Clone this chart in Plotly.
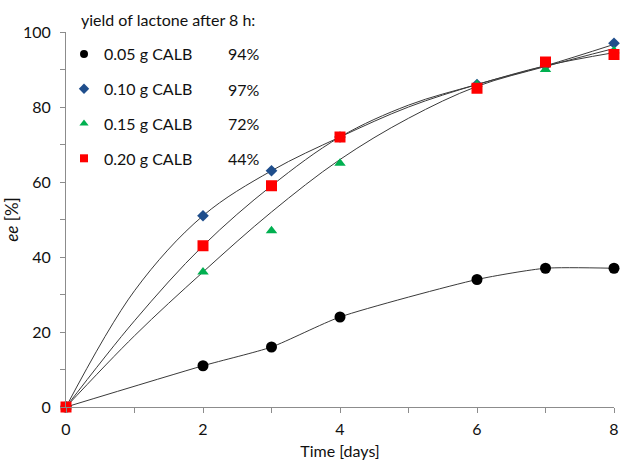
import plotly.graph_objects as go

days = [0, 2, 3, 4, 6, 7, 8]
ee_005 = [0, 11, 16, 24, 34, 37, 37]
ee_010 = [0, 51, 63, 72, 86, 91, 97]
ee_015 = [0, 36, 47, 65, 86, 90, 95]
ee_020 = [0, 43, 59, 72, 85, 92, 94]

# trend curves
days_fit = [0, 1, 2, 3, 4, 5, 6, 7, 8]
fit_010 = [0, 31, 51, 63, 72, 80, 86, 91, 96.7]
fit_015 = [0, 19, 36, 52, 66, 77, 85.5, 90.8, 95.6]
fit_020 = [0, 23, 43, 59, 72, 80.5, 86, 91, 94.5]

labels = ["0.05 g CALB", "0.10 g CALB", "0.15 g CALB", "0.20 g CALB"]
yields = ["94%", "97%", "72%", "44%"]
legend_title = "yield of lactone after 8 h:"

FONT = "Lato"
LINE = "#3a3a3a"
W, H = 625, 466
ml, mr, mt, mb = 66, 6, 32, 59
pw, ph = W - ml - mr, H - mt - mb

def px2paper(x, y):
    return (x - ml) / pw, (H - mb - y) / ph

fig = go.Figure()

# smoothed line for 0.05 g series
fig.add_trace(go.Scatter(x=days, y=ee_005, mode="lines", line=dict(color=LINE, width=1, shape="spline", smoothing=0.6),
                         showlegend=False, hoverinfo="skip"))

for fy in (fit_010, fit_015, fit_020):
    fig.add_trace(go.Scatter(x=days_fit, y=fy, mode="lines",
                             line=dict(color=LINE, width=1, shape="spline", smoothing=1.0),
                             showlegend=False, hoverinfo="skip"))

styles = [
    dict(symbol="circle", color="#000000", size=11, lsize=8),
    dict(symbol="diamond", color="#1F4E8C", size=9, lsize=8),
    dict(symbol="triangle-up", color="#00B050", size=10, lsize=8),
    dict(symbol="square", color="#FF0000", size=11, lsize=8),
]
for i, (ys, st) in enumerate(zip((ee_005, ee_010, ee_015, ee_020), styles)):
    fig.add_trace(go.Scatter(x=days, y=ys, mode="markers", showlegend=False,
                             marker=dict(symbol=st["symbol"], color=st["color"], size=st["size"], line=dict(width=0)),
                             cliponaxis=False))
    fig.add_trace(go.Scatter(x=[None], y=[None], mode="markers", name=labels[i], legendgroup=str(i),
                             marker=dict(symbol=st["symbol"], color=st["color"], size=st["lsize"], line=dict(width=0))))

ann = []
tx, ty = px2paper(79, 20)
ann.append(dict(x=tx, y=ty, xref="paper", yref="paper", text=legend_title, showarrow=False,
                xanchor="left", yanchor="middle", font=dict(family=FONT, size=16, color="#111")))
for yv, py in zip(yields, [54, 90, 124, 158]):
    ax, ay = px2paper(227, py)
    ann.append(dict(x=ax, y=ay, xref="paper", yref="paper", text=yv, showarrow=False,
                    xanchor="left", yanchor="middle", font=dict(family=FONT, size=16, color="#111")))

lx, ly = px2paper(64, 37)
fig.update_layout(
    width=W, height=H, margin=dict(l=ml, r=mr, t=mt, b=mb),
    paper_bgcolor="white", plot_bgcolor="white",
    font=dict(family=FONT, size=16, color="#111"),
    showlegend=True,
    legend=dict(x=lx, y=ly, xanchor="left", yanchor="top", bgcolor="rgba(0,0,0,0)",
                font=dict(family=FONT, size=16, color="#111"), tracegroupgap=11, itemsizing="trace"),
    annotations=ann,
    xaxis=dict(range=[0, 8], tickvals=[0, 2, 4, 6, 8], showgrid=False, zeroline=False,
               showline=True, linecolor="#8c8c8c", linewidth=1, ticks="outside", ticklen=5,
               tickcolor="#8c8c8c", minor=dict(dtick=1, ticks="outside", ticklen=5, tickcolor="#8c8c8c", showgrid=False),
               ticklabelstandoff=3,
               title=dict(text="Time [days]", font=dict(family=FONT, size=16), standoff=8),
               tickfont=dict(family=FONT, size=16)),
    yaxis=dict(range=[0, 100], tickvals=[0, 20, 40, 60, 80, 100], showgrid=False, zeroline=False,
               showline=True, linecolor="#8c8c8c", linewidth=1, ticks="outside", ticklen=5,
               tickcolor="#8c8c8c", minor=dict(dtick=10, ticks="outside", ticklen=5, tickcolor="#8c8c8c", showgrid=False),
               ticklabelstandoff=6,
               title=dict(text="<i>ee</i> [%]", font=dict(family=FONT, size=17), standoff=0),
               tickfont=dict(family=FONT, size=16)),
)
fig.write_html("out.html")
